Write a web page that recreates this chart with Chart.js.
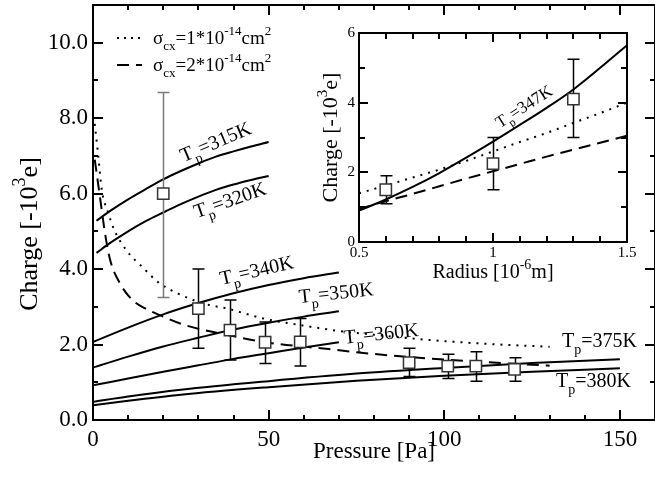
<!DOCTYPE html>
<html>
<head>
<meta charset="utf-8">
<script src="https://cdn.jsdelivr.net/npm/chart.js@4.4.0/dist/chart.umd.min.js"></script>
<style>
html, body { margin: 0; padding: 0; background: #fff; }
#wrap { position: relative; width: 655px; height: 477px; overflow: hidden; }
#main { position: absolute; left: 0; top: 0; }
#inset { position: absolute; left: 315px; top: 20px; }
</style>
</head>
<body>
<div id="wrap">
<canvas id="main" width="655" height="477"></canvas>
<canvas id="inset" width="325" height="270"></canvas>
</div>
<script>
// ---- main panel: charge vs pressure ----
var pressure   = [20, 30, 39, 49, 59, 90, 101, 109, 120];
var charge     = [6.0, 2.95, 2.38, 2.06, 2.07, 1.52, 1.43, 1.43, 1.34];
var chargeLow  = [3.25, 1.9, 1.59, 1.5, 1.43, 1.15, 1.1, 1.03, 1.03];
var chargeHigh = [8.68, 4.0, 3.18, 2.6, 2.69, 1.9, 1.74, 1.81, 1.65];

var pA   = [1, 5, 10, 15, 20, 25, 30, 35, 40, 45, 50];
var t315 = [5.28, 5.55, 5.85, 6.12, 6.38, 6.6, 6.8, 6.98, 7.12, 7.25, 7.37];
var t320 = [4.43, 4.7, 5.0, 5.27, 5.5, 5.72, 5.92, 6.1, 6.24, 6.36, 6.47];

var pB   = [0, 10, 20, 30, 40, 50, 60, 70];
var t340 = [2.07, 2.45, 2.8, 3.1, 3.36, 3.58, 3.76, 3.91];
var t350 = [1.39, 1.68, 1.95, 2.18, 2.4, 2.58, 2.74, 2.88];
var t360 = [0.92, 1.1, 1.28, 1.45, 1.62, 1.77, 1.92, 2.06];

var pC   = [0, 10, 25, 50, 75, 100, 125, 150];
var t375 = [0.48, 0.62, 0.8, 1.03, 1.23, 1.38, 1.51, 1.61];
var t380 = [0.39, 0.51, 0.67, 0.87, 1.04, 1.17, 1.28, 1.37];

var pDot   = [0.5, 1.5, 2.5, 4.3, 6, 9.5, 14, 19, 24, 28.5, 33, 38, 43, 49, 60, 70, 80, 96, 110, 130];
var sigma1 = [7.85, 7.0, 6.1, 5.5, 5.05, 4.5, 4.06, 3.62, 3.36, 3.18, 3.05, 2.96, 2.83, 2.68, 2.5, 2.36, 2.26, 2.12, 2.03, 1.94];
var pDash  = [0.5, 2, 3.5, 5, 7.5, 11, 15, 19, 26, 36, 50, 67, 80, 100, 130];
var sigma2 = [6.9, 5.9, 4.9, 4.2, 3.65, 3.2, 2.95, 2.78, 2.52, 2.3, 2.05, 1.88, 1.75, 1.6, 1.44];

var tempNames = ['315K', '320K', '340K', '350K', '360K', '375K', '380K'];

// ---- inset: charge vs radius ----
var radius      = [0.6, 1.0, 1.3];
var chargeR     = [1.5, 2.25, 4.1];
var chargeRLow  = [1.1, 1.5, 3.0];
var chargeRHigh = [1.9, 3.0, 5.25];
var rLine  = [0.5, 0.6, 0.7, 0.8, 0.9, 1.0, 1.1, 1.2, 1.3, 1.4, 1.5];
var t347   = [0.9, 1.22, 1.58, 1.98, 2.42, 2.88, 3.36, 3.85, 4.38, 5.0, 5.65];
var sig1R  = [1.4, 1.62, 1.85, 2.08, 2.33, 2.6, 2.87, 3.13, 3.42, 3.7, 4.0];
var sig2R  = [0.95, 1.17, 1.38, 1.6, 1.82, 2.03, 2.24, 2.45, 2.65, 2.85, 3.05];

var FONT = "'Liberation Serif', 'Times New Roman', serif";
Chart.defaults.font.family = FONT;
Chart.defaults.color = '#000';

function pts(xs, ys) {
  return xs.map(function (x, i) { return { x: x, y: ys[i] }; });
}

function curve(xs, ys, dash) {
  return {
    data: pts(xs, ys), showLine: true, pointRadius: 0, borderColor: '#000',
    borderWidth: 2, borderDash: dash || [], cubicInterpolationMode: 'monotone', fill: false
  };
}

function squares(xs, ys) {
  return {
    data: pts(xs, ys), showLine: false, pointStyle: 'rect', pointRadius: 8,
    pointBackgroundColor: '#fff', pointBorderColor: '#333', pointBorderWidth: 1.5
  };
}

// text with sub (1) / superscript (2) pieces
function richWidth(ctx, parts, size) {
  var w = 0;
  parts.forEach(function (p) {
    ctx.font = (p[1] ? Math.round(size * 0.68) : size) + 'px ' + FONT;
    w += ctx.measureText(p[0]).width;
  });
  return w;
}
function drawRich(ctx, parts, x, y, size, center) {
  var cx = center ? x - richWidth(ctx, parts, size) / 2 : x;
  ctx.fillStyle = '#000';
  ctx.textAlign = 'left';
  ctx.textBaseline = 'alphabetic';
  parts.forEach(function (p) {
    ctx.font = (p[1] ? Math.round(size * 0.68) : size) + 'px ' + FONT;
    var dy = p[1] === 1 ? size * 0.32 : (p[1] === 2 ? -size * 0.45 : 0);
    ctx.fillText(p[0], cx, y + dy);
    cx += ctx.measureText(p[0]).width;
  });
}

// frame with inward ticks on all four sides
function drawFrame(chart, o) {
  var ctx = chart.ctx, a = chart.chartArea, sx = chart.scales.x, sy = chart.scales.y;
  var L = Math.round(a.left), R = Math.round(a.right), T = Math.round(a.top), B = Math.round(a.bottom);
  var i, v, len, p, n;
  ctx.save();
  ctx.setLineDash([]);
  ctx.fillStyle = '#000';
  n = Math.round((sx.max - sx.min) / o.xMinor);
  for (i = 0; i <= n; i++) {
    v = sx.min + i * o.xMinor;
    len = Math.abs(v / o.xMajor - Math.round(v / o.xMajor)) < 1e-6 ? o.major : o.minor;
    p = Math.round(sx.getPixelForValue(v));
    ctx.fillRect(p - 1, B - len, 2, len);
    ctx.fillRect(p - 1, T, 2, len);
  }
  n = Math.round((sy.max - sy.min) / o.yMinor);
  for (i = 0; i <= n; i++) {
    v = sy.min + i * o.yMinor;
    len = Math.abs(v / o.yMajor - Math.round(v / o.yMajor)) < 1e-6 ? o.major : o.minor;
    p = Math.round(sy.getPixelForValue(v));
    ctx.fillRect(L, p - 1, len, 2);
    ctx.fillRect(R - len, p - 1, len, 2);
  }
  ctx.fillRect(L - 1, T - 1, R - L + 2, 2);
  ctx.fillRect(L - 1, B - 1, R - L + 2, 2);
  ctx.fillRect(L - 1, T - 1, 2, B - T + 2);
  ctx.fillRect(R - 1, T - 1, 2, B - T + 2);
  ctx.restore();
}

function drawErrors(chart, xs, lo, hi, cap, colors) {
  var ctx = chart.ctx, sx = chart.scales.x, sy = chart.scales.y;
  ctx.save();
  ctx.setLineDash([]);
  ctx.lineWidth = 1.5;
  xs.forEach(function (x, i) {
    var px = Math.round(sx.getPixelForValue(x)) + 0.5;
    var y1 = sy.getPixelForValue(lo[i]), y2 = sy.getPixelForValue(hi[i]);
    ctx.strokeStyle = colors ? colors(i) : '#000';
    ctx.beginPath();
    ctx.moveTo(px, y1); ctx.lineTo(px, y2);
    ctx.moveTo(px - cap, y1); ctx.lineTo(px + cap, y1);
    ctx.moveTo(px - cap, y2); ctx.lineTo(px + cap, y2);
    ctx.stroke();
  });
  ctx.restore();
}

function tLabel(chart, name, x, y, deg, size) {
  var ctx = chart.ctx;
  ctx.save();
  ctx.translate(chart.scales.x.getPixelForValue(x), chart.scales.y.getPixelForValue(y));
  ctx.rotate(deg * Math.PI / 180);
  drawRich(ctx, [['T', 0], ['p', 1], ['=' + name, 0]], 0, 0, size, false);
  ctx.restore();
}

function noPadX(s) { s.paddingLeft = 0; s.paddingRight = 0; }
function noPadY(s) { s.paddingTop = 0; s.paddingBottom = 0; }

// label anchors (data units) and angles for the temperature curves
var labelAt = [[25.8, 6.83, -23], [29.5, 5.35, -19], [36.6, 3.58, -13], [58.8, 3.1, -6],
               [71.6, 2.02, -6], [133.5, 1.93, 0], [131.8, 0.87, 0]];

var mainPlugin = {
  id: 'mainDecor',
  beforeDatasetDraw: function (chart, args) {
    if (args.index === 0) {
      drawErrors(chart, pressure, chargeLow, chargeHigh, 6, function (i) { return i === 0 ? '#7a7a7a' : '#000'; });
    }
  },
  afterDraw: function (chart) {
    var ctx = chart.ctx, a = chart.chartArea;
    drawFrame(chart, { xMinor: 10, xMajor: 50, yMinor: 1, yMajor: 2, major: 10, minor: 5 });
    tempNames.forEach(function (n, i) {
      tLabel(chart, n, labelAt[i][0], labelAt[i][1], labelAt[i][2], 20);
    });
    // legend
    ctx.save();
    ctx.strokeStyle = '#000';
    ctx.lineWidth = 2;
    ctx.setLineDash([2, 5]);
    ctx.beginPath(); ctx.moveTo(117, 38); ctx.lineTo(142, 38); ctx.stroke();
    ctx.setLineDash([12, 7]);
    ctx.beginPath(); ctx.moveTo(117, 65); ctx.lineTo(142, 65); ctx.stroke();
    ctx.restore();
    drawRich(ctx, [['\u03c3', 0], ['cx', 1], ['=1*10', 0], ['-14', 2], ['cm', 0], ['2', 2]], 153, 44, 19, false);
    drawRich(ctx, [['\u03c3', 0], ['cx', 1], ['=2*10', 0], ['-14', 2], ['cm', 0], ['2', 2]], 153, 71, 19, false);
    // axis titles
    drawRich(ctx, [['Pressure [Pa]', 0]], (a.left + a.right) / 2, 458, 23, true);
    ctx.save();
    ctx.translate(37, 234);
    ctx.rotate(-Math.PI / 2);
    drawRich(ctx, [['Charge [-10', 0], ['3', 2], ['e]', 0]], 0, 0, 26, true);
    ctx.restore();
  }
};

new Chart(document.getElementById('main'), {
  type: 'scatter',
  data: {
    datasets: [
      squares(pressure, charge),
      curve(pA, t315), curve(pA, t320),
      curve(pB, t340), curve(pB, t350), curve(pB, t360),
      curve(pC, t375), curve(pC, t380),
      curve(pDot, sigma1, [2, 6]),
      curve(pDash, sigma2, [12, 7])
    ]
  },
  options: {
    responsive: false, animation: false, events: [],
    layout: { autoPadding: false, padding: { top: 5, right: 0, left: 0, bottom: 0 } },
    plugins: { legend: { display: false }, tooltip: { enabled: false } },
    scales: {
      x: {
        type: 'linear', min: 0, max: 160,
        grid: { display: false, drawTicks: false }, border: { display: false },
        ticks: {
          stepSize: 10, autoSkip: false, maxRotation: 0, padding: 6,
          font: { size: 23 },
          callback: function (v) { return v % 50 === 0 ? String(v) : null; }
        },
        afterFit: function (s) { s.height = 57; noPadX(s); }
      },
      y: {
        min: 0, max: 11,
        grid: { display: false, drawTicks: false }, border: { display: false },
        ticks: {
          stepSize: 1, autoSkip: false, padding: 5,
          font: { size: 23 },
          callback: function (v) { return v % 2 === 0 ? v.toFixed(1) : null; }
        },
        afterFit: function (s) { s.width = 93; noPadY(s); }
      }
    }
  },
  plugins: [mainPlugin]
});

var insetPlugin = {
  id: 'insetDecor',
  beforeDatasetDraw: function (chart, args) {
    if (args.index === 0) drawErrors(chart, radius, chargeRLow, chargeRHigh, 6);
  },
  afterDraw: function (chart) {
    var ctx = chart.ctx, a = chart.chartArea;
    drawFrame(chart, { xMinor: 0.1, xMajor: 0.5, yMinor: 1, yMajor: 2, major: 9, minor: 6 });
    tLabel(chart, '347K', 1.026, 3.26, -33, 17);
    drawRich(ctx, [['Radius [10', 0], ['-6', 2], ['m]', 0]], (a.left + a.right) / 2, 258, 20, true);
    ctx.save();
    ctx.translate(22, (a.top + a.bottom) / 2);
    ctx.rotate(-Math.PI / 2);
    drawRich(ctx, [['Charge [-10', 0], ['3', 2], ['e]', 0]], 0, 0, 22, true);
    ctx.restore();
  }
};

new Chart(document.getElementById('inset'), {
  type: 'scatter',
  data: {
    datasets: [
      squares(radius, chargeR),
      curve(rLine, t347),
      curve(rLine, sig1R, [2, 6]),
      curve(rLine, sig2R, [12, 7])
    ]
  },
  options: {
    responsive: false, animation: false, events: [],
    layout: { autoPadding: false, padding: { top: 13, right: 13, left: 0, bottom: 0 } },
    plugins: { legend: { display: false }, tooltip: { enabled: false } },
    scales: {
      x: {
        type: 'linear', min: 0.5, max: 1.5,
        grid: { display: false, drawTicks: false }, border: { display: false },
        ticks: {
          stepSize: 0.5, autoSkip: false, maxRotation: 0, padding: 2,
          font: { size: 15 },
          callback: function (v) { return String(+v.toFixed(2)); }
        },
        afterFit: function (s) { s.height = 48; noPadX(s); }
      },
      y: {
        min: 0, max: 6,
        grid: { display: false, drawTicks: false }, border: { display: false },
        ticks: {
          stepSize: 2, autoSkip: false, padding: 4,
          font: { size: 15 },
          callback: function (v) { return String(v); }
        },
        afterFit: function (s) { s.width = 44; noPadY(s); }
      }
    }
  },
  plugins: [insetPlugin]
});
</script>
</body>
</html>
